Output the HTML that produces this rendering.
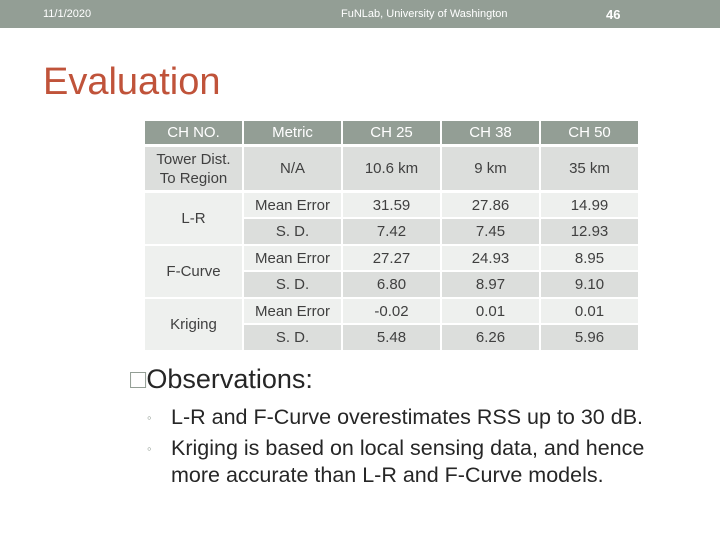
<!DOCTYPE html>
<html><head><meta charset="utf-8"><style>
body{margin:0;width:720px;height:540px;position:relative;background:#fff;font-family:"Liberation Sans",sans-serif;overflow:hidden}
.bar{position:absolute;left:0;top:0;width:720px;height:28px;background:#939e95;color:#fff}
.c{position:absolute;display:flex;align-items:center;justify-content:center;text-align:center;font-size:15px;color:#404040;line-height:19px}
.h{background:#939e95;color:#fff;font-size:15px}
.d{background:#dcdedc}.l{background:#eef0ee}
.b{position:absolute;left:171px;width:500px;font-size:21.5px;color:#262626;line-height:27px}
.m{position:absolute;left:-24px;top:0;font-size:13px;color:#939e95}
</style></head><body>
<div class="bar">
<span style="position:absolute;left:43px;top:8px;font-size:11px">11/1/2020</span>
<span style="position:absolute;left:341px;top:8px;font-size:11px">FuNLab, University of Washington</span>
<span style="position:absolute;left:606px;top:7px;font-size:13px;font-weight:bold">46</span>
</div>
<div style="position:absolute;left:43px;top:61px;font-size:38px;color:#c0533a">Evaluation</div>
<div id="t"></div>
<div style="position:absolute;left:130px;top:364px;font-size:27px;color:#262626"><span style="color:#939e95">□</span>Observations:</div>
<div class="b" style="top:404px"><span class="m">◦</span>L-R and F-Curve overestimates RSS up to 30 dB.</div>
<div class="b" style="top:435px;width:490px"><span class="m">◦</span>Kriging is based on local sensing data, and hence more accurate than L-R and F-Curve models.</div>
<script>
const xs=[145,244,343,442,541],ws=[97,97,97,97,97];
function cell(x,y,w,h,cls,txt,name){const e=document.createElement('div');e.className='c '+cls;
e.style.left=x+'px';e.style.top=y+'px';e.style.width=w+'px';e.style.height=h+'px';e.innerHTML=txt;


document.getElementById('t').appendChild(e);}
const hdr=['CH NO.','Metric','CH 25','CH 38','CH 50'];
hdr.forEach((t,i)=>cell(xs[i],121,ws[i],23,'h',t,'header-cell'));
cell(xs[0],147,97,43,'d','Tower Dist.<br>To Region','row-label');
['N/A','10.6 km','9 km','35 km'].forEach((t,i)=>cell(xs[i+1],147,97,43,'d',t,'table-cell'));
const groups=[['L-R',193,[['31.59','27.86','14.99'],['7.42','7.45','12.93']]],
['F-Curve',246,[['27.27','24.93','8.95'],['6.80','8.97','9.10']]],
['Kriging',299,[['-0.02','0.01','0.01'],['5.48','6.26','5.96']]]];
groups.forEach(g=>{const y=g[1];
cell(xs[0],y,97,51,'l',g[0],'row-label');
cell(xs[1],y,97,24,'l','Mean Error','metric-cell');
cell(xs[1],y+26,97,25,'d','S. D.','metric-cell');
g[2][0].forEach((t,i)=>cell(xs[i+2],y,97,24,'l',t,'table-cell'));
g[2][1].forEach((t,i)=>cell(xs[i+2],y+26,97,25,'d',t,'table-cell'));});
</script>
</body></html>
